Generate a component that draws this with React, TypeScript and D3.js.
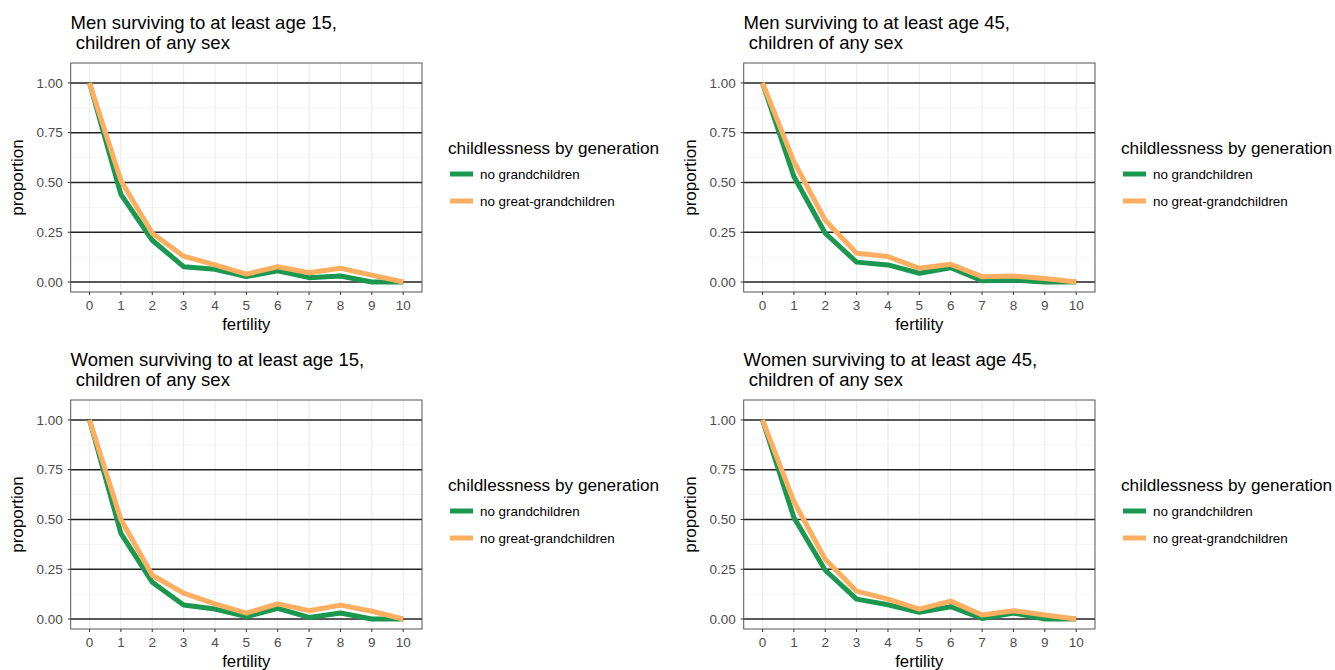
import React from 'react';
import * as d3 from 'd3';

// fertility categories (x)
const fertility = [0, 1, 2, 3, 4, 5, 6, 7, 8, 9, 10];
const yBreaks = [0, 0.25, 0.5, 0.75, 1];
const yMinor = [0.125, 0.375, 0.625, 0.875];

const seriesNames = ['no grandchildren', 'no great-grandchildren'];
const seriesColors = ['#1a9850', '#fdae61'];

const panelTitles = [
  ['Men surviving to at least age 15,', ' children of any sex'],
  ['Men surviving to at least age 45,', ' children of any sex'],
  ['Women surviving to at least age 15,', ' children of any sex'],
  ['Women surviving to at least age 45,', ' children of any sex'],
];

// no grandchildren
const men15Grand = [1.0, 0.44, 0.21, 0.077, 0.064, 0.027, 0.057, 0.022, 0.03, 0.0, 0.0];
const men45Grand = [1.0, 0.53, 0.245, 0.1, 0.086, 0.044, 0.072, 0.007, 0.01, 0.0, 0.0];
const women15Grand = [1.0, 0.43, 0.185, 0.07, 0.05, 0.012, 0.054, 0.008, 0.03, 0.0, 0.0];
const women45Grand = [1.0, 0.51, 0.245, 0.1, 0.072, 0.034, 0.062, 0.003, 0.03, 0.0, 0.0];

// no great-grandchildren
const men15Great = [1.0, 0.51, 0.245, 0.13, 0.086, 0.04, 0.077, 0.047, 0.069, 0.035, 0.0];
const men45Great = [1.0, 0.605, 0.31, 0.145, 0.128, 0.069, 0.089, 0.027, 0.03, 0.018, 0.0];
const women15Great = [1.0, 0.5, 0.22, 0.13, 0.076, 0.03, 0.076, 0.042, 0.07, 0.039, 0.0];
const women45Great = [1.0, 0.59, 0.3, 0.14, 0.1, 0.05, 0.09, 0.02, 0.042, 0.02, 0.0];

const panelSeries = [
  [men15Grand, men15Great],
  [men45Grand, men45Great],
  [women15Grand, women15Great],
  [women45Grand, women45Great],
];

const font = '"Liberation Sans", Arial, Helvetica, sans-serif';

const Panel = ({ idx }: { idx: number }) => {
  const ox = (idx % 2) * 673;
  const oy = Math.floor(idx / 2) * 337;
  const left = 70.7, right = 422, top = 63, bottom = 292;

  const x = d3.scaleLinear().domain([-0.6, 10.6]).range([left, right]);
  const y = d3.scaleLinear().domain([-0.05, 1.1]).range([bottom, top]);

  const line = d3
    .line<number>()
    .x((d, i) => x(fertility[i]))
    .y((d) => y(d));

  return (
    <g transform={`translate(${ox},${oy})`}>
      <text x={70.5} y={29} fontSize={18.5} fill="#000">{panelTitles[idx][0]}</text>
      <text x={70.5} y={49} fontSize={18.5} fill="#000" style={{ whiteSpace: 'pre' }}>{panelTitles[idx][1]}</text>

      <rect x={left} y={top} width={right - left} height={bottom - top} fill="#fff" />
      {yMinor.map((v) => (
        <line key={'ym' + v} x1={left} x2={right} y1={y(v)} y2={y(v)} stroke="#f2f2f2" strokeWidth={0.8} />
      ))}
      {fertility.map((v) => (
        <line key={'xg' + v} x1={x(v)} x2={x(v)} y1={top} y2={bottom} stroke="#ebebeb" strokeWidth={1.1} />
      ))}
      {yBreaks.map((v) => (
        <line key={'yg' + v} x1={left} x2={right} y1={y(v)} y2={y(v)} stroke="#222" strokeWidth={1.5} />
      ))}

      {panelSeries[idx].map((s, i) => (
        <path key={'s' + i} d={line(s) || ''} fill="none" stroke={seriesColors[i]} strokeWidth={5} strokeLinejoin="round" />
      ))}

      <rect x={left} y={top} width={right - left} height={bottom - top} fill="none" stroke="#555" strokeWidth={1} />

      {yBreaks.map((v) => (
        <g key={'yt' + v}>
          <line x1={left - 3} x2={left} y1={y(v)} y2={y(v)} stroke="#333" strokeWidth={1} />
          <text x={left - 8} y={y(v)} dy="0.35em" textAnchor="end" fontSize={13.5} fill="#4d4d4d">
            {d3.format('.2f')(v)}
          </text>
        </g>
      ))}
      {fertility.map((v) => (
        <g key={'xt' + v}>
          <line x1={x(v)} x2={x(v)} y1={bottom} y2={bottom + 3} stroke="#333" strokeWidth={1} />
          <text x={x(v)} y={bottom + 18} textAnchor="middle" fontSize={13.5} fill="#4d4d4d">{v}</text>
        </g>
      ))}

      <text x={(left + right) / 2} y={330} textAnchor="middle" fontSize={16.7} fill="#000">fertility</text>
      <text
        transform={`translate(23,${(top + bottom) / 2}) rotate(-90)`}
        textAnchor="middle"
        fontSize={17}
        fill="#000"
      >
        proportion
      </text>

      <g transform="translate(448,0)">
        <text x={0} y={154} fontSize={17.2} fill="#000">childlessness by generation</text>
        {seriesNames.map((n, i) => (
          <g key={n} transform={`translate(0,${174 + i * 27})`}>
            <line x1={2} x2={25} y1={0} y2={0} stroke={seriesColors[i]} strokeWidth={5} />
            <text x={32} y={0} dy="0.35em" fontSize={13.4} fill="#000">{n}</text>
          </g>
        ))}
      </g>
    </g>
  );
};

export default function App() {
  return (
    <svg
      width={1335}
      height={670}
      style={{ position: 'absolute', left: 0, top: 0, background: '#fff', fontFamily: font }}
    >
      <rect width={1335} height={670} fill="#fff" />
      {[0, 1, 2, 3].map((i) => (
        <Panel key={i} idx={i} />
      ))}
    </svg>
  );
}
